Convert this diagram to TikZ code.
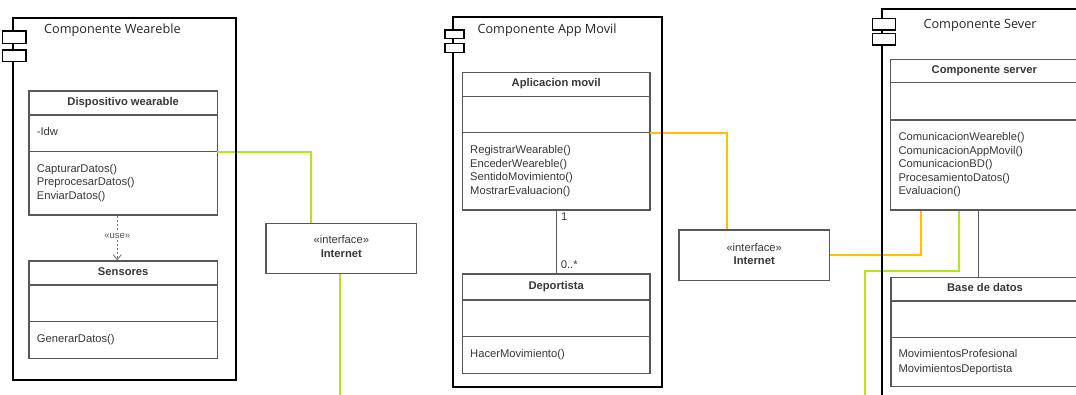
\documentclass[tikz,border=0pt]{standalone}
\usepackage{fontspec}
\setmainfont{Liberation Sans}
\newfontfamily\comptitlefont{Open Sans}
\usetikzlibrary{arrows.meta,fit}
\definecolor{limewire}{RGB}{178,228,32}
\definecolor{amberwire}{RGB}{255,192,0}
\definecolor{edge}{RGB}{88,88,88}
\definecolor{ink}{RGB}{55,55,55}

\begin{document}
\begin{tikzpicture}[x=1pt,y=-1pt,
  compbox/.style={draw=black,line width=1.8pt,inner sep=0pt},
  comptab/.style={draw=black,line width=1.5pt,fill=white},
  classbox/.style={draw=edge,line width=1.2pt,inner sep=0pt},
  divider/.style={draw=edge,line width=1.2pt},
  ifacebox/.style={draw=edge,line width=1.2pt,inner sep=0pt},
  comptitle/.style={font=\comptitlefont\fontsize{12.7}{15}\selectfont,text=black!85,anchor=base west,inner sep=0pt},
  cname/.style={font=\bfseries\fontsize{11.2}{13}\selectfont,text=ink,anchor=base,inner sep=0pt},
  member/.style={font=\fontsize{11.2}{13}\selectfont,text=ink,anchor=base west,inner sep=0pt},
  stereo/.style={font=\fontsize{11.2}{13}\selectfont,text=ink,anchor=base,inner sep=0pt},
  limeline/.style={draw=limewire,line width=2pt},
  amberline/.style={draw=amberwire,line width=2pt},
  assoc/.style={draw=edge,line width=0.9pt},
  usedep/.style={draw=edge!80,line width=0.9pt,dash pattern=on 2pt off 2pt,-{Straight Barb[length=5pt,width=8pt]}}
]
\useasboundingbox (0,0) rectangle (1076,395);
\clip (0,0) rectangle (1076,395);

% ---------- class boxes ----------
\node[classbox,fit={(29,91)(217.3,215)}]   (dw)   {};
\node[classbox,fit={(29,261)(217.3,358.3)}] (sens) {};
\node[classbox,fit={(462.3,72.3)(650,210)}] (app)  {};
\node[classbox,fit={(462.3,274)(650,373.3)}] (dep) {};
\node[classbox,fit={(890.7,59.3)(1078,210)}] (srv) {};
\node[classbox,fit={(891,277.3)(1078,386.7)}] (bd) {};

% compartments
\foreach \cls/\ya/\yb in {dw/115/151.7, sens/285/321.7, app/96.7/132.7,
                          dep/300/336.7, srv/82.7/120, bd/301/337.3}{
  \draw[divider] (\cls.west |- 0,\ya) -- (\cls.east |- 0,\ya);
  \draw[divider] (\cls.west |- 0,\yb) -- (\cls.east |- 0,\yb);
}

% ---------- interfaces ----------
\node[ifacebox,fit={(266,223.3)(416.7,273.7)}] (inet1) {};
\node[ifacebox,fit={(679,230)(829.3,280.7)}]   (inet2) {};
\node[stereo] (inet1s) at (341.3,244) {«interface»};
\node[stereo,font=\bfseries\fontsize{11.2}{13}\selectfont] (inet1n) at (341.3,258) {Internet};
\node[stereo] (inet2s) at (754.2,251.3) {«interface»};
\node[stereo,font=\bfseries\fontsize{11.2}{13}\selectfont] (inet2n) at (754.2,264.7) {Internet};

% ---------- connectors ----------
\coordinate (dwport)  at (217.3,151.7);
\coordinate (appport) at (650,132.7);
\coordinate (down1)   at (340,400);
\coordinate (down2)   at (865.3,400);

\draw[limeline] (dwport) -| ([xshift=-30.6pt]inet1.north);
\draw[limeline] (inet1.south -| down1) -- (down1);
\draw[amberline] (appport) -| ([xshift=-27.5pt]inet2.north);
\draw[amberline] (inet2.east) -| ([xshift=-63.65pt]srv.south);
\draw[limeline] ([xshift=-25.65pt]srv.south) -- ++(0,60.7) -| (down2);
\draw[assoc] ([xshift=-6.1pt]srv.south) -- ([xshift=-6.1pt]srv.south |- bd.north);
\draw[assoc] (app.south) -- (app.south |- dep.north);
\draw[usedep] ([xshift=-5.9pt]dw.south) -- ([xshift=-5.9pt]sens.north);
\node[font=\fontsize{9.5}{11}\selectfont,text=ink!85,fill=white,inner sep=1pt] (uselbl) at (117.3,236) {«use»};

\node[member] (mult1) at (561,220.7) {1};
\node[member] (mult2) at (560.7,269) {0..*};

% ---------- components ----------
\node[compbox,fit={(13,18.3)(235.7,380)}]  (wearcomp) {};
\node[compbox,fit={(453.3,16.7)(662.3,386.7)}] (appcomp) {};
\node[compbox,fit={(882.3,9.3)(1100,420)}]  (srvcomp) {};

\draw[comptab] (2.7,31) rectangle (26,43.3);
\draw[comptab] (2.7,50) rectangle (26,61.7);
\draw[comptab] (445,30) rectangle (464,38.3);
\draw[comptab] (445,43.3) rectangle (464,52.3);
\draw[comptab] (872.7,18.3) rectangle (895.7,30);
\draw[comptab] (872.7,33.3) rectangle (895.7,45);

\node[comptitle] (wearttl) at (44,33.8)    {Componente Weareble};
\node[comptitle] (appttl)  at (477.3,33.5) {Componente App Movil};
\node[comptitle] (srvttl)  at (923.3,28.5) {Componente Sever};

% ---------- class texts ----------
\node[cname] (dwname)   at (123.2,105.7) {Dispositivo wearable};
\node[member] (dwattr)  at (36.7,136) {-Idw};
\foreach \t [count=\i] in {CapturarDatos(),PreprocesarDatos(),EnviarDatos()}
  \node[member] (dwop\i) at (36.7,{172.3+13.7*(\i-1)}) {\t};

\node[cname] (sensname) at (123.2,275.7) {Sensores};
\node[member] (sensop)  at (36.7,342.3) {GenerarDatos()};

\node[cname] (appname)  at (556.2,86.7) {Aplicacion movil};
\foreach \t [count=\i] in {RegistrarWearable(),EncederWeareble(),SentidoMovimiento(),MostrarEvaluacion()}
  \node[member] (appop\i) at (470,{154+13.35*(\i-1)}) {\t};

\node[cname] (depname)  at (556.2,290) {Deportista};
\node[member] (depop)   at (470,357.3) {HacerMovimiento()};

\node[cname] (srvname)  at (984.3,74) {Componente server};
\foreach \t [count=\i] in {ComunicacionWeareble(),ComunicacionAppMovil(),ComunicacionBD(),ProcesamientoDatos(),Evaluacion()}
  \node[member] (srvop\i) at (898.3,{140.7+13.55*(\i-1)}) {\t};

\node[cname] (bdname)   at (985,291.3) {Base de datos};
\foreach \t [count=\i] in {MovimientosProfesional,MovimientosDeportista}
  \node[member] (bdop\i) at (898.3,{357.3+15*(\i-1)}) {\t};
\end{tikzpicture}
\end{document}
